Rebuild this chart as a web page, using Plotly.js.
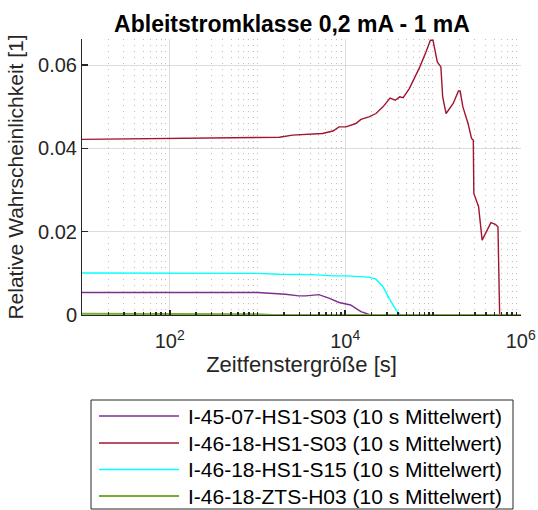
<!DOCTYPE html>
<html>
<head>
<meta charset="utf-8">
<script src="https://cdn.plot.ly/plotly-3.0.1.min.js"></script>
<style>html,body{margin:0;padding:0;background:#fff;}#chart{width:538px;height:510px;}</style>
</head>
<body>
<div id="chart"></div>
<script>
// ---- data (x: Zeitfenstergröße in s, y: relative Wahrscheinlichkeit) ----
const seriesNames = [
  "I-45-07-HS1-S03 (10 s Mittelwert)",
  "I-46-18-HS1-S03 (10 s Mittelwert)",
  "I-46-18-HS1-S15 (10 s Mittelwert)",
  "I-46-18-ZTS-H03 (10 s Mittelwert)"
];
const seriesColors = ["#7E2F8E", "#A2142F", "#00FFFF", "#77AC30"];

const xPurple = [10, 100, 1000, 2090, 2950, 3550, 5010, 6610, 8510, 11500, 13200, 15100, 19500, 1000000];
const yPurple = [0.0054, 0.0054, 0.0054, 0.0050, 0.0046, 0.0046, 0.0049, 0.0040, 0.0030, 0.0024, 0.0016, 0.0008, 0, 0];

const xRed = [10, 32, 100, 316, 1000, 1780, 2510, 3550, 5500, 7240, 8510, 10200, 13200, 15100, 18600, 22400,
  26900, 32400, 37200, 41700, 45700, 53700, 70800, 83200, 93300, 100000, 112000, 123000, 129000, 141000,
  170000, 195000, 204000, 219000, 251000, 275000, 288000, 292000, 331000, 363000, 457000, 513000, 550000,
  575000, 1000000];
const yRed = [0.0422, 0.0423, 0.0424, 0.0425, 0.0426, 0.0427, 0.0432, 0.0434, 0.0436, 0.0442, 0.0452, 0.0452,
  0.0460, 0.0470, 0.0476, 0.0484, 0.0500, 0.0521, 0.0516, 0.0524, 0.0522, 0.0544, 0.0596, 0.0632, 0.0660,
  0.0660, 0.0608, 0.0596, 0.0524, 0.0484, 0.0508, 0.0538, 0.0538, 0.0500, 0.0460, 0.0424, 0.0420, 0.0292,
  0.0260, 0.0180, 0.0222, 0.0218, 0.0212, 0, 0];

const xCyan = [10, 100, 1000, 1780, 4270, 7240, 10200, 18600, 22400, 26900, 31600, 38000, 42700, 1000000];
const yCyan = [0.0101, 0.0101, 0.0100, 0.0098, 0.0097, 0.0094, 0.0094, 0.0091, 0.0086, 0.0068, 0.0040, 0.0012, 0, 0];

const xGreen = [10, 300, 1000, 1500, 1000000];
const yGreen = [0.0003, 0.0003, 0.0002, 0, 0];

const titleText = "Ableitstromklasse 0,2 mA - 1 mA";
const xTitle = "Zeitfenstergröße [s]";
const yTitle = "Relative Wahrscheinlichkeit [1]";
const xTickVals = [100, 10000, 1000000];
const xTickText = ["10<sup>2</sup>", "10<sup>4</sup>", "10<sup>6</sup>"];
const yTickVals = [0, 0.02, 0.04, 0.06];
const yTickText = ["0", "0.02", "0.04", "0.06"];

// ---- layout geometry ----
const W = 538, H = 510;
const M = {l: 82, r: 17, t: 39, b: 195};
const PW = W - M.l - M.r, PH = H - M.t - M.b;
const px = v => (v - M.l) / PW;
const py = v => (H - M.b - v) / PH;
const FONT = "Arial, 'Liberation Sans', sans-serif";
const AX = "#262626";

const xs = [xPurple, xRed, xCyan, xGreen];
const ys = [yPurple, yRed, yCyan, yGreen];
const widths = [1.4, 1.4, 1.4, 2];

const traces = xs.map((x, i) => ({
  x: x, y: ys[i], type: "scatter", mode: "lines", name: seriesNames[i],
  line: {color: seriesColors[i], width: widths[i]}, showlegend: false, hoverinfo: "x+y+name"
}));
const order = [1, 0, 2, 3];
const data = order.map(i => traces[i]);

// manual legend (MATLAB style long line samples)
const shapes = [{
  type: "rect", xref: "paper", yref: "paper",
  x0: px(91), x1: px(513), y0: py(400), y1: py(509),
  line: {color: AX, width: 1}, fillcolor: "rgba(255,255,255,1)"
}];
const annotations = [];
const legendRows = [416, 443, 469.5, 496];
seriesNames.forEach((n, i) => {
  shapes.push({type: "line", xref: "paper", yref: "paper",
    x0: px(99), x1: px(179), y0: py(legendRows[i]), y1: py(legendRows[i]),
    line: {color: seriesColors[i], width: widths[i]}});
  annotations.push({xref: "paper", yref: "paper", x: px(186), y: py(legendRows[i]),
    xanchor: "left", yanchor: "middle", showarrow: false, text: n,
    font: {family: FONT, size: 21, color: "#000"}});
});

const layout = {
  width: W, height: H,
  margin: M,
  paper_bgcolor: "#fff", plot_bgcolor: "#fff",
  font: {family: FONT, color: AX},
  title: {text: titleText, font: {family: FONT, size: 23, color: "#000", weight: "bold"},
    x: px(292), xref: "paper", xanchor: "center", y: 1 - 24 / H, yref: "container", yanchor: "middle"},
  xaxis: {
    type: "log", range: [1, 6.003], tickvals: xTickVals, ticktext: xTickText,
    showgrid: true, gridcolor: "#dcdcdc", gridwidth: 1,
    showline: true, linecolor: AX, linewidth: 1, mirror: false,
    ticks: "inside", ticklen: 5, tickcolor: AX, tickwidth: 1.5,
    ticklabelstandoff: 8,
    tickfont: {family: FONT, size: 20, color: AX},
    minor: {dtick: "D1", showgrid: true, griddash: "1px,5px", gridcolor: "#bdbdbd", gridwidth: 1,
      ticks: "inside", ticklen: 3, tickcolor: AX, tickwidth: 1.5},
    title: {text: xTitle, font: {family: FONT, size: 22, color: AX}, standoff: 4},
    zeroline: false
  },
  yaxis: {
    range: [0, 0.0663], tickvals: yTickVals, ticktext: yTickText,
    showgrid: true, gridcolor: "#dcdcdc", gridwidth: 1,
    showline: true, linecolor: AX, linewidth: 1, mirror: false,
    ticks: "inside", ticklen: 6, tickcolor: AX, tickwidth: 1.5,
    tickfont: {family: FONT, size: 20, color: AX},
    title: {text: yTitle, font: {family: FONT, size: 21, color: AX}, standoff: 8},
    zeroline: false
  },
  shapes: shapes,
  annotations: annotations,
  showlegend: false
};

Plotly.newPlot("chart", data, layout, {displayModeBar: false, staticPlot: true});
</script>
</body>
</html>
